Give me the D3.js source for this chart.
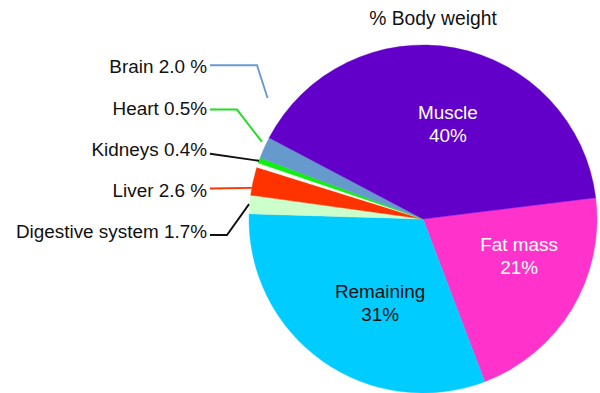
<!DOCTYPE html>
<html>
<head>
<meta charset="utf-8">
<script src="https://cdn.jsdelivr.net/npm/d3@7"></script>
<style>
  html, body { margin: 0; padding: 0; background: #ffffff; }
  svg { display: block; }
  text { font-family: "Liberation Sans", Arial, sans-serif; }
</style>
</head>
<body>
<svg id="chart" width="600" height="393"></svg>
<script>
// ---- data ----
const title = "% Body weight";
const categories = ["Fat mass", "Remaining", "Digestive system", "Liver", "Kidneys", "Heart", "Brain", "Muscle"];
const values = [21, 31, 1.7, 2.6, 0.4, 0.5, 2.0, 40];
const valueLabels = ["21%", "31%", "1.7%", "2.6 %", "0.4%", "0.5%", "2.0 %", "40%"];
const insideCategories = ["Muscle", "Fat mass", "Remaining"];
const outsideCategories = ["Brain", "Heart", "Kidneys", "Liver", "Digestive system"];

// ---- styles / layout ----
const sliceColors = {
  "Muscle": "#6200c9", "Fat mass": "#ff33cc", "Remaining": "#00ccff",
  "Digestive system": "#ccffcc", "Liver": "#ff3300", "Kidneys": "#fafafa",
  "Heart": "#11ee11", "Brain": "#6699cc"
};
const leaderColors = {
  "Brain": "#6b9ad2", "Heart": "#22dd22", "Kidneys": "#111111",
  "Liver": "#ff3300", "Digestive system": "#111111"
};
const insideTextColor = { "Muscle": "#ffffff", "Fat mass": "#ffffff", "Remaining": "#111111" };
// label angle nudges (deg) and radius for inside labels
const insideNudge = { "Muscle": 4.3, "Fat mass": -10, "Remaining": -8.3 };
const insideRadius = { "Muscle": 98, "Fat mass": 103, "Remaining": 94 };
// leader-line geometry for outside labels
const leaderNudge = { "Brain": 13.7, "Heart": 5.9, "Kidneys": 1.5, "Liver": -2.3, "Digestive system": 0.1 };
const leaderGap = { "Brain": 23, "Heart": 4.5, "Kidneys": 0, "Liver": 0, "Digestive system": 0.6 };
const leaderElbow = { "Brain": 47, "Heart": 27, "Kidneys": 0, "Liver": 0, "Digestive system": 17 };
const leaderRise = { "Brain": 8, "Heart": 5, "Kidneys": 2, "Liver": 8.5, "Digestive system": 3.3 };

const W = 600, H = 393;
const cx = 423, cy = 219, R = 174;
const startDeg = 83;
const labelX = 207, labelTop = 73.3, labelStep = 41.25;
const fontSize = 18.9;

const svg = d3.select("#chart");
const rad = d => d * Math.PI / 180;
const polar = (a, r) => [cx + r * Math.sin(a), cy - r * Math.cos(a)];

const data = categories.map((c, i) => ({ name: c, value: values[i], label: valueLabels[i] }));
const pie = d3.pie().sort(null).value(d => d.value)
  .startAngle(rad(startDeg)).endAngle(rad(startDeg + 360));
const arcs = pie(data);
const byName = {};
arcs.forEach(a => byName[a.data.name] = a);

const arc = d3.arc().innerRadius(0).outerRadius(R);

svg.append("g")
  .attr("transform", `translate(${cx},${cy})`)
  .selectAll("path")
  .data(arcs)
  .join("path")
  .attr("d", arc)
  .attr("fill", d => sliceColors[d.data.name])
  .attr("stroke", d => sliceColors[d.data.name])
  .attr("stroke-width", 0.4);

// title
svg.append("text")
  .attr("x", 433).attr("y", 25)
  .attr("text-anchor", "middle")
  .attr("font-size", 19.3)
  .attr("fill", "#111")
  .text(title);

// inside labels
insideCategories.forEach(name => {
  const a = byName[name];
  const mid = (a.startAngle + a.endAngle) / 2 + rad(insideNudge[name]);
  const [x, y] = polar(mid, insideRadius[name]);
  const t = svg.append("text")
    .attr("text-anchor", "middle")
    .attr("font-size", fontSize)
    .attr("fill", insideTextColor[name]);
  t.append("tspan").attr("x", x).attr("y", y - 5).text(name);
  t.append("tspan").attr("x", x).attr("y", y + 18).text(a.data.label);
});

// outside labels with leader lines
const yPos = d3.scalePoint().domain(outsideCategories)
  .range([labelTop, labelTop + labelStep * (outsideCategories.length - 1)]);

outsideCategories.forEach(name => {
  const a = byName[name];
  const y = yPos(name);
  svg.append("text")
    .attr("x", labelX).attr("y", y)
    .attr("text-anchor", "end")
    .attr("font-size", fontSize)
    .attr("fill", "#111")
    .text(name + " " + a.data.label);
  const ly = y - leaderRise[name];
  const mid = (a.startAngle + a.endAngle) / 2 + rad(leaderNudge[name]);
  const end = polar(mid, R + leaderGap[name]);
  const pts = [[labelX + 3, ly]];
  if (leaderElbow[name] > 0) pts.push([labelX + 3 + leaderElbow[name], ly]);
  pts.push(end);
  svg.append("path")
    .attr("d", d3.line()(pts))
    .attr("fill", "none")
    .attr("stroke", leaderColors[name])
    .attr("stroke-width", 1.9);
});
</script>
</body>
</html>
